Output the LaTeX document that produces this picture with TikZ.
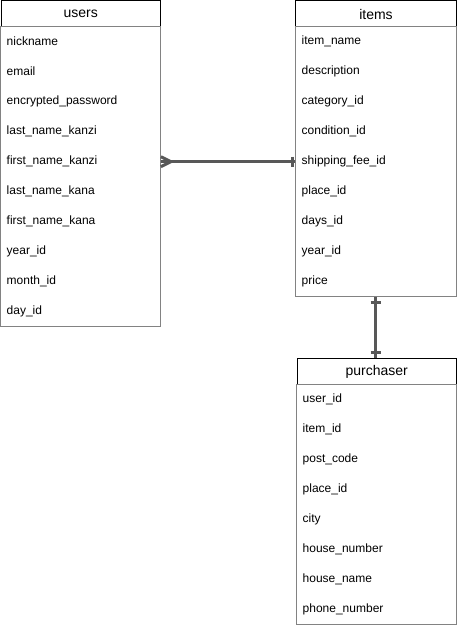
\documentclass[tikz,border=0pt]{standalone}
\usepackage{fontspec}
\setmainfont{Liberation Sans}
\usetikzlibrary{positioning}
\definecolor{ErLinha}{RGB}{88,88,88}
\definecolor{ErCorpo}{RGB}{130,130,130}
\tikzset{
  cabeca/.style={draw=black, line width=1pt, fill=white, anchor=north west, inner sep=0pt,
                 minimum height=26pt, font=\fontsize{14}{16}\selectfont},
  linha/.style={anchor=north west, inner xsep=6pt, inner ysep=0pt, minimum height=30pt,
                text width=148pt, align=left, font=\fontsize{12}{14}\selectfont},
  corpo/.style={draw=ErCorpo, line width=1pt},
  relacao/.style={draw=ErLinha, line width=3pt},
}

\begin{document}
\begin{tikzpicture}[x=1pt, y=-1pt]
  \useasboundingbox (0,0) rectangle (458,628);

  % Tabela: nome, x, y, largura, titulo, numero de campos, campos
  \newcommand{\tabelaer}[7]{%
    \node[cabeca, minimum width=#4pt] (#1) at (#2,#3) {#5};
    \draw[corpo] (#2,{#3+26}) rectangle ({#2+#4},{#3+26+30*#6});
    \foreach \campo [count=\i] in {#7}{
      \node[linha, minimum width=#4pt] (#1-\i) at (#2,{#3+26+30*(\i-1)}) {\campo};
    }}

  \tabelaer{users}{0.5}{0.5}{159.5}{users}{10}{nickname, email, encrypted\_password,
    last\_name\_kanzi, first\_name\_kanzi, last\_name\_kana, first\_name\_kana,
    year\_id, month\_id, day\_id}
  \tabelaer{items}{295}{0.5}{161}{items}{9}{item\_name, description, category\_id,
    condition\_id, shipping\_fee\_id, place\_id, days\_id, year\_id, price}
  \tabelaer{purchaser}{296.5}{358}{159.5}{purchaser}{8}{user\_id, item\_id, post\_code,
    place\_id, city, house\_number, house\_name, phone\_number}

  % users (muitos) -- items (um)
  \draw[relacao] (users-5.east) -- (items-5.west);
  \draw[relacao] ([yshift=5pt]users-5.east) -- ([xshift=10pt]users-5.east)
    -- ([yshift=-5pt]users-5.east);
  \draw[relacao] ([xshift=-3pt,yshift=5pt]items-5.west) -- ([xshift=-3pt,yshift=-5pt]items-5.west);

  % items (um) -- purchaser (um)
  \coordinate (fim) at (items-9.south |- purchaser.north);
  \draw[relacao] (items-9.south) -- (fim);
  \draw[relacao] ([xshift=-5pt,yshift=-6pt]items-9.south) -- ([xshift=5pt,yshift=-6pt]items-9.south);
  \draw[relacao] ([xshift=-5pt,yshift=6pt]fim) -- ([xshift=5pt,yshift=6pt]fim);
\end{tikzpicture}
\end{document}
